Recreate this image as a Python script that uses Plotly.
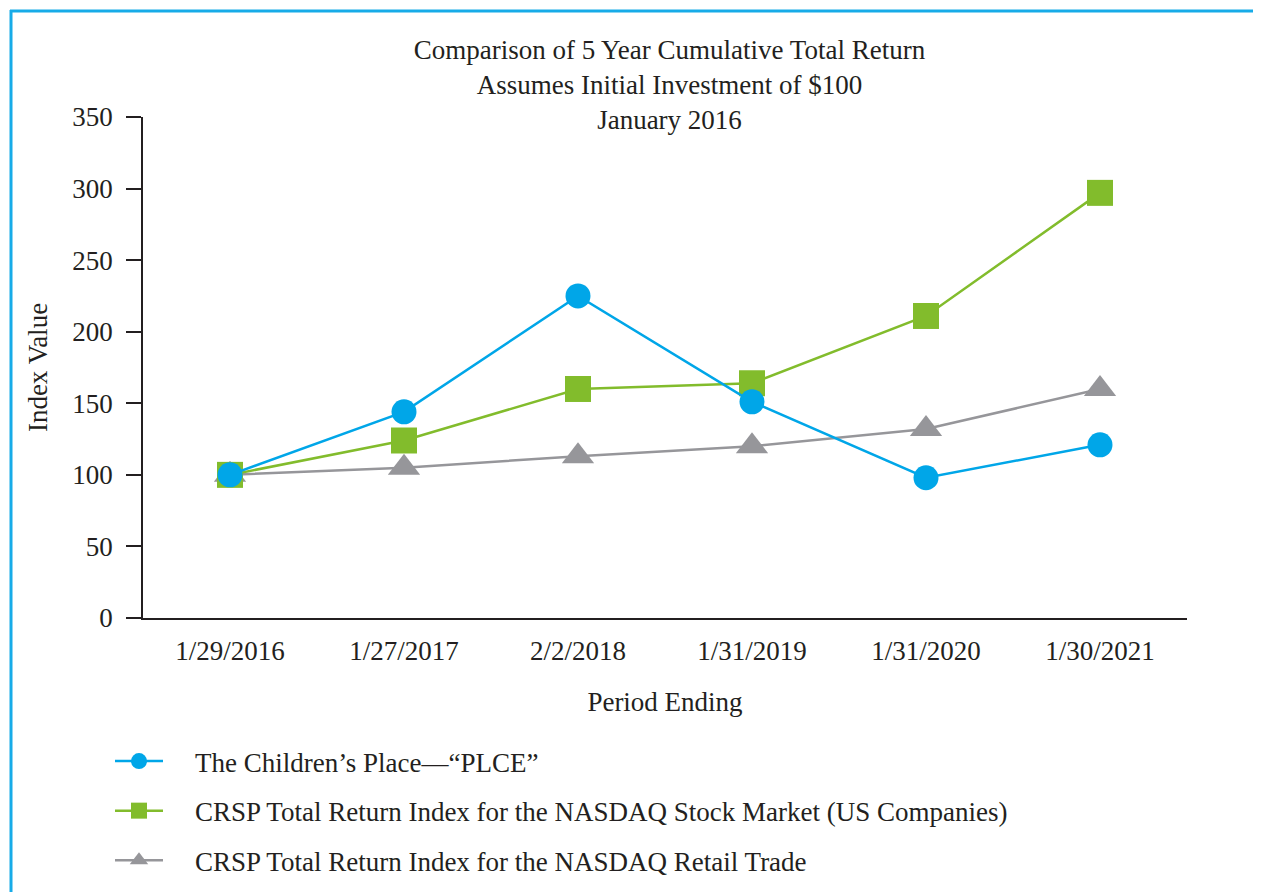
import plotly.graph_objects as go

periods = ["1/29/2016", "1/27/2017", "2/2/2018", "1/31/2019", "1/31/2020", "1/30/2021"]
plce = [100, 144, 225, 151, 98, 121]
nasdaq = [100, 124, 160, 164, 211, 297]
retail = [100, 105, 113, 120, 132, 160]

names = [
    "The Children\u2019s Place\u2014\u201cPLCE\u201d",
    "CRSP Total Return Index for the NASDAQ Stock Market (US Companies)",
    "CRSP Total Return Index for the NASDAQ Retail Trade",
]
PAD = "\u2002\u2002"

BLUE = "#00A6E8"
GREEN = "#82BC2C"
GRAY = "#96969A"
TXT = "#231F20"
FONT = "Liberation Serif"

fig = go.Figure()
fig.add_trace(go.Scatter(x=periods, y=retail, name=PAD + names[2], mode="lines+markers",
                         legendgroup="c", legendrank=3,
                         line=dict(color=GRAY, width=2.5),
                         marker=dict(symbol="triangle-up", size=28, color=GRAY)))
fig.add_trace(go.Scatter(x=periods, y=nasdaq, name=PAD + names[1], mode="lines+markers",
                         legendgroup="b", legendrank=2,
                         line=dict(color=GREEN, width=2.5),
                         marker=dict(symbol="square", size=26, color=GREEN)))
fig.add_trace(go.Scatter(x=periods, y=plce, name=PAD + names[0], mode="lines+markers",
                         legendgroup="a", legendrank=1,
                         line=dict(color=BLUE, width=2.5),
                         marker=dict(symbol="circle", size=25, color=BLUE)))

# figure is drawn 8px right/down of the window origin
OFF = 8
W, H = 1261 - OFF, 892 - OFF
L, R, T, B = 143 - OFF, 1261 - 1187, 117 - OFF, 892 - 618
pw, ph = W - L - R, H - T - B

def px(sx):
    return (sx - OFF - L) / pw

def py(sy):
    return (H - B - (sy - OFF)) / ph

fig.update_layout(
    width=W, height=H,
    margin=dict(l=L, r=R, t=T, b=B, autoexpand=False),
    paper_bgcolor="white", plot_bgcolor="white",
    font=dict(family=FONT, size=27, color=TXT),
    title=dict(text="Comparison of 5 Year Cumulative Total Return<br>Assumes Initial Investment of $100<br>January 2016",
               x=(669.5 - OFF) / W, xref="container", xanchor="center",
               y=1 - 51 / H, yref="container", yanchor="top",
               font=dict(family=FONT, size=27, color=TXT)),
    xaxis=dict(type="category", range=[-0.5, 5.5], showgrid=False, zeroline=False,
               showline=True, linecolor=TXT, linewidth=1.5, ticks="",
               ticklabelstandoff=8,
               title=dict(text="Period Ending", standoff=27, font=dict(size=27))),
    yaxis=dict(range=[0, 350], tickvals=[0, 50, 100, 150, 200, 250, 300, 350],
               showgrid=False, zeroline=False, showline=True, linecolor=TXT, linewidth=1.5,
               ticks="outside", ticklen=15, tickwidth=1.5, tickcolor=TXT,
               ticklabelstandoff=8,
               title=dict(text="Index Value", standoff=17, font=dict(size=27))),
    legend=dict(x=px(110), xref="paper", y=1 - 729 / H, yref="container",
                xanchor="left", yanchor="top",
                orientation="v", traceorder="grouped", tracegroupgap=11.5,
                itemwidth=48, font=dict(family=FONT, size=27, color=TXT),
                bgcolor="rgba(0,0,0,0)"),
    showlegend=True,
    shapes=[
        dict(type="line", xref="paper", yref="paper", x0=px(10), x1=px(1261), y0=py(11), y1=py(11),
             line=dict(color="#17ABE8", width=3)),
        dict(type="line", xref="paper", yref="paper", x0=px(11), x1=px(11), y0=py(10), y1=py(892),
             line=dict(color="#17ABE8", width=3)),
    ],
)

fig.write_html("out.html")
